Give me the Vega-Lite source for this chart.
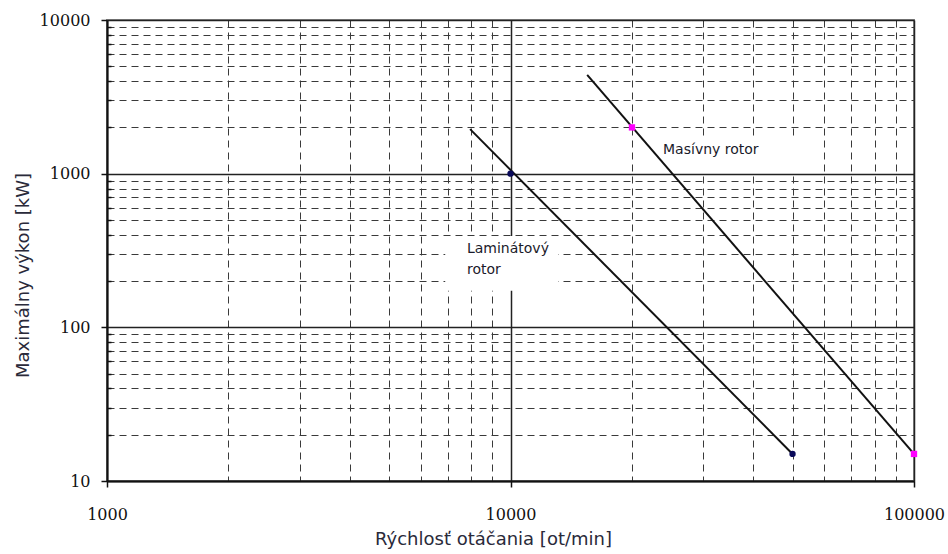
{
  "$schema": "https://vega.github.io/schema/vega-lite/v6.json",
  "autosize": {"type": "none"},
  "padding": {"left": 107, "top": 20, "right": 34, "bottom": 73},
  "width": 807,
  "height": 461,
  "background": "white",
  "config": {
    "view": {"stroke": "#8a8a8a", "strokeWidth": 2},
    "axis": {
      "domainColor": "#111",
      "domainWidth": 2,
      "tickColor": "#111",
      "tickWidth": 1.5,
      "labelFont": "DejaVu Serif",
      "labelFontSize": 16,
      "labelColor": "#111",
      "titleFont": "DejaVu Sans",
      "titleFontSize": 18,
      "titleFontWeight": "normal",
      "titleColor": "#2a2a3a",
      "grid": true,
      "gridColor": {"condition": {"test": "indexof([10, 100, 1000, 10000, 100000], datum.value) >= 0", "value": "#222"}, "value": "#3a3a3a"},
      "gridWidth": {"condition": {"test": "indexof([10, 100, 1000, 10000, 100000], datum.value) >= 0", "value": 1.5}, "value": 1},
      "gridDash": {"condition": {"test": "indexof([10, 100, 1000, 10000, 100000], datum.value) >= 0", "value": []}, "value": [7, 5]}
    }
  },
  "datasets": {
    "lines": [
      {"series": "Laminátový rotor", "rpm": 7940, "kw": 1950},
      {"series": "Laminátový rotor", "rpm": 50000, "kw": 15},
      {"series": "Masívny rotor", "rpm": 15490, "kw": 4390},
      {"series": "Masívny rotor", "rpm": 100000, "kw": 15}
    ],
    "points": [
      {"series": "Laminátový rotor", "rpm": 10000, "kw": 1000},
      {"series": "Laminátový rotor", "rpm": 50000, "kw": 15},
      {"series": "Masívny rotor", "rpm": 20000, "kw": 2000},
      {"series": "Masívny rotor", "rpm": 100000, "kw": 15}
    ],
    "boxes": [
      {"rpm": 6890, "rpm2": 13130, "kw": 393, "kw2": 173},
      {"rpm": 23240, "rpm2": 50700, "kw": 1758, "kw2": 1026}
    ],
    "labels": [
      {"rpm": 7800, "kw": 323, "text": "Laminátový"},
      {"rpm": 7800, "kw": 236, "text": "rotor"},
      {"rpm": 23880, "kw": 1426, "text": "Masívny rotor"}
    ]
  },
  "encoding": {
    "x": {
      "field": "rpm",
      "type": "quantitative",
      "scale": {"type": "log", "domain": [1000, 100000], "nice": false},
      "axis": {
        "title": "Rýchlosť otáčania [ot/min]",
        "values": [1000, 2000, 3000, 4000, 5000, 6000, 7000, 8000, 9000, 10000, 20000, 30000, 40000, 50000, 60000, 70000, 80000, 90000, 100000],
        "labelExpr": "indexof([1000, 10000, 100000], datum.value) >= 0 ? format(datum.value, 'd') : ''",
        "tickSize": {"condition": {"test": "indexof([1000, 10000, 100000], datum.value) >= 0", "value": 6}, "value": 0},
        "labelPadding": 19,
        "labelFlush": false,
        "labelOverlap": false,
        "titleX": 386,
        "titleY": 58,
        "titleBaseline": "middle"
      }
    },
    "y": {
      "field": "kw",
      "type": "quantitative",
      "scale": {"type": "log", "domain": [10, 10000], "nice": false},
      "axis": {
        "title": "Maximálny výkon [kW]",
        "values": [10, 20, 30, 40, 50, 60, 70, 80, 90, 100, 200, 300, 400, 500, 600, 700, 800, 900, 1000, 2000, 3000, 4000, 5000, 6000, 7000, 8000, 9000, 10000],
        "labelExpr": "indexof([10, 100, 1000, 10000], datum.value) >= 0 ? format(datum.value, 'd') : ''",
        "tickSize": {"condition": {"test": "indexof([10, 100, 1000, 10000], datum.value) >= 0", "value": 6}, "value": -4},
        "labelPadding": 11,
        "labelFlush": false,
        "labelOverlap": false,
        "titleX": -84,
        "titleY": 255,
        "titleBaseline": "middle"
      }
    }
  },
  "layer": [
    {
      "data": {"name": "boxes"},
      "mark": {"type": "rect", "fill": "white", "stroke": null},
      "encoding": {
        "x2": {"field": "rpm2"},
        "y2": {"field": "kw2"}
      }
    },
    {
      "data": {"name": "lines"},
      "mark": {"type": "line", "color": "#111", "strokeWidth": 2},
      "encoding": {"detail": {"field": "series", "type": "nominal"}}
    },
    {
      "data": {"name": "points"},
      "mark": {"type": "point", "filled": true, "opacity": 1},
      "encoding": {
        "shape": {"field": "series", "type": "nominal", "scale": {"domain": ["Laminátový rotor", "Masívny rotor"], "range": ["circle", "square"]}, "legend": null},
        "color": {"field": "series", "type": "nominal", "scale": {"domain": ["Laminátový rotor", "Masívny rotor"], "range": ["#0a0a5a", "#ff00ff"]}, "legend": null},
        "size": {"value": 40}
      }
    },
    {
      "data": {"name": "labels"},
      "mark": {"type": "text", "align": "left", "baseline": "middle", "font": "DejaVu Sans", "fontSize": 14, "color": "#1a1a2a"},
      "encoding": {"text": {"field": "text"}}
    }
  ]
}
